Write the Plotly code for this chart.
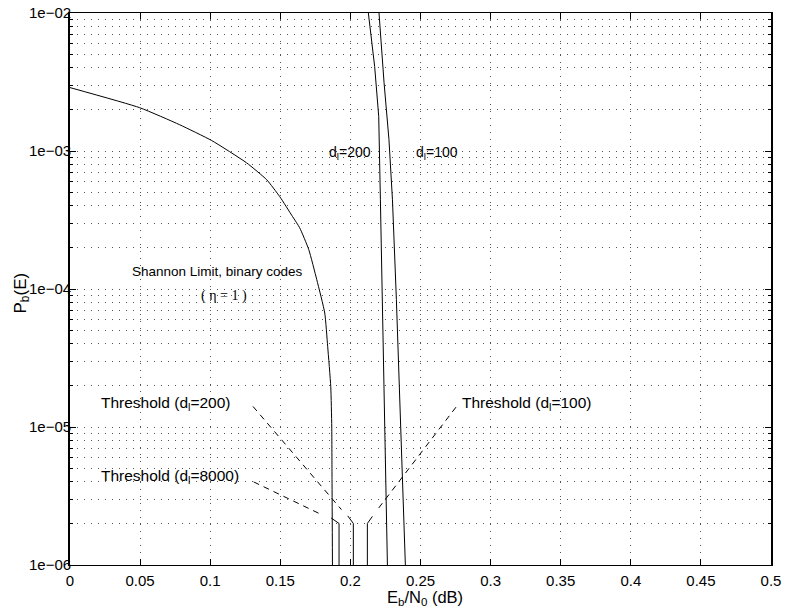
import math
import plotly.graph_objects as go

# Shannon limit curve (binary codes, eta = 1)
shannon_x = [0.0, 0.0497, 0.0782, 0.1011, 0.1260, 0.1403, 0.1496, 0.1588, 0.1638,
             0.1703, 0.1760, 0.1817, 0.1838, 0.1860, 0.1867, 0.1869, 0.1872]
shannon_y = [2.88e-3, 2.06e-3, 1.55e-3, 1.19e-3, 8.2e-4, 6.19e-4, 4.67e-4, 3.34e-4, 2.78e-4,
             1.93e-4, 1.17e-4, 6.7e-5, 3.82e-5, 1.96e-5, 1.0e-5, 4.15e-6, 1.0e-6]

# d_l = 200 curve
dl200_x = [0.2122, 0.2128, 0.2173, 0.2202, 0.2214, 0.2228, 0.2264]
dl200_y = [1.2e-2, 1.0e-2, 4.1e-3, 1.78e-3, 4.43e-4, 8.4e-5, 1.0e-6]

# d_l = 100 curve
dl100_x = [0.2197, 0.2204, 0.2240, 0.2275, 0.2300, 0.2328, 0.2392]
dl100_y = [1.2e-2, 1.0e-2, 3.13e-3, 1.21e-3, 4.43e-4, 8.4e-5, 1.0e-6]

# threshold markers (kink, threshold at 2e-6, bottom)
thr8000_x = [0.1863, 0.1919, 0.1919]
thr8000_y = [2.19e-6, 2.0e-6, 1.0e-6]
thr200_x = [0.1981, 0.2021, 0.2021]
thr200_y = [2.27e-6, 2.0e-6, 1.0e-6]
thr100_x = [0.2157, 0.2121, 0.2121]
thr100_y = [2.25e-6, 2.0e-6, 1.0e-6]

# dashed leader lines from labels
lead8000_x = [0.1310, 0.1805]
lead8000_y = [4.0e-6, 2.29e-6]
lead200_x = [0.1305, 0.1936]
lead200_y = [1.41e-5, 2.52e-6]
lead100_x = [0.2202, 0.2773]
lead100_y = [2.59e-6, 1.48e-5]

x_ticks = [0, 0.05, 0.1, 0.15, 0.2, 0.25, 0.3, 0.35, 0.4, 0.45, 0.5]
x_ticktext = ["0", "0.05", "0.1", "0.15", "0.2", "0.25", "0.3", "0.35", "0.4", "0.45", "0.5"]
y_ticks = [1e-6, 1e-5, 1e-4, 1e-3, 1e-2]
y_ticktext = ["1e\u221206", "1e\u221205", "1e\u221204", "1e\u221203", "1e\u221202"]

FONT = "Liberation Sans, Arial, Helvetica, sans-serif"
SERIF = "Liberation Serif, Times New Roman, serif"

fig = go.Figure()
fig.add_trace(go.Scatter(x=shannon_x, y=shannon_y, mode="lines",
                         line=dict(color="black", width=1, shape="spline", smoothing=0.5),
                         showlegend=False, hoverinfo="skip"))
solid = dict(color="black", width=1)
for xs, ys in [(dl200_x, dl200_y), (dl100_x, dl100_y),
               (thr8000_x, thr8000_y), (thr200_x, thr200_y), (thr100_x, thr100_y)]:
    fig.add_trace(go.Scatter(x=xs, y=ys, mode="lines", line=solid, showlegend=False,
                             hoverinfo="skip"))
for xs, ys in [(lead8000_x, lead8000_y), (lead200_x, lead200_y), (lead100_x, lead100_y)]:
    fig.add_trace(go.Scatter(x=xs, y=ys, mode="lines",
                             line=dict(color="black", width=1, dash="6px,5px"),
                             showlegend=False, hoverinfo="skip"))

annots = [
    (0.200, 9.7e-4, "d<sub>l</sub>=200", "center", FONT, 14),
    (0.262, 9.7e-4, "d<sub>l</sub>=100", "center", FONT, 14),
    (0.105, 1.33e-4, "Shannon Limit, binary codes", "center", FONT, 13.5),
    (0.110, 8.9e-5, "( \u03b7 = 1 )", "center", SERIF, 14),
    (0.0205, 1.47e-5, "Threshold (d<sub>l</sub>=200)", "left", FONT, 15.5),
    (0.0205, 4.36e-6, "Threshold (d<sub>l</sub>=8000)", "left", FONT, 15.5),
    (0.2779, 1.47e-5, "Threshold (d<sub>l</sub>=100)", "left", FONT, 15.5),
]
for x, y, t, anc, fnt, sz in annots:
    fig.add_annotation(x=x, y=math.log10(y), text=t, showarrow=False,
                       xanchor=anc, yanchor="middle",
                       font=dict(family=fnt, size=sz, color="black"))

# axis titles
fig.add_annotation(xref="paper", yref="paper", x=0.506, y=-0.06,
                   text="E<sub>b</sub>/N<sub>0</sub> (dB)", showarrow=False,
                   xanchor="center", yanchor="middle",
                   font=dict(family=FONT, size=16.5, color="black"))
fig.add_annotation(xref="paper", yref="paper", x=-0.069, y=0.493,
                   text="P<sub>b</sub>(E)", showarrow=False, textangle=-90,
                   xanchor="center", yanchor="middle",
                   font=dict(family=FONT, size=17, color="black"))

grid = dict(showgrid=True, gridcolor="#555555", gridwidth=1, griddash="1px,6px")
fig.update_layout(
    width=785, height=612,
    margin=dict(l=70, r=14, t=13, b=47),
    paper_bgcolor="white", plot_bgcolor="white",
    font=dict(family=FONT, size=15, color="black"),
    xaxis=dict(range=[0, 0.5], tickvals=x_ticks, ticktext=x_ticktext,
               ticks="inside", ticklen=6, tickcolor="black", mirror="allticks",
               showline=True, linecolor="black", linewidth=1.3, zeroline=False,
               ticklabelstandoff=2,
               automargin=False, **grid),
    yaxis=dict(type="log", range=[-6, -2], tickvals=y_ticks, ticktext=y_ticktext,
               ticks="inside", ticklen=6, tickcolor="black", mirror="allticks",
               showline=True, linecolor="black", linewidth=1.8, zeroline=False,
               ticklabelstandoff=-6,
               automargin=False,
               minor=dict(dtick="D1", ticks="inside", ticklen=3, tickcolor="black",
                          showgrid=True, gridcolor="#555555", gridwidth=1,
                          griddash="1px,6px"),
               **grid),
)
fig.write_html("out.html", post_script="document.body.style.margin='0';",
               config={"displayModeBar": False})
